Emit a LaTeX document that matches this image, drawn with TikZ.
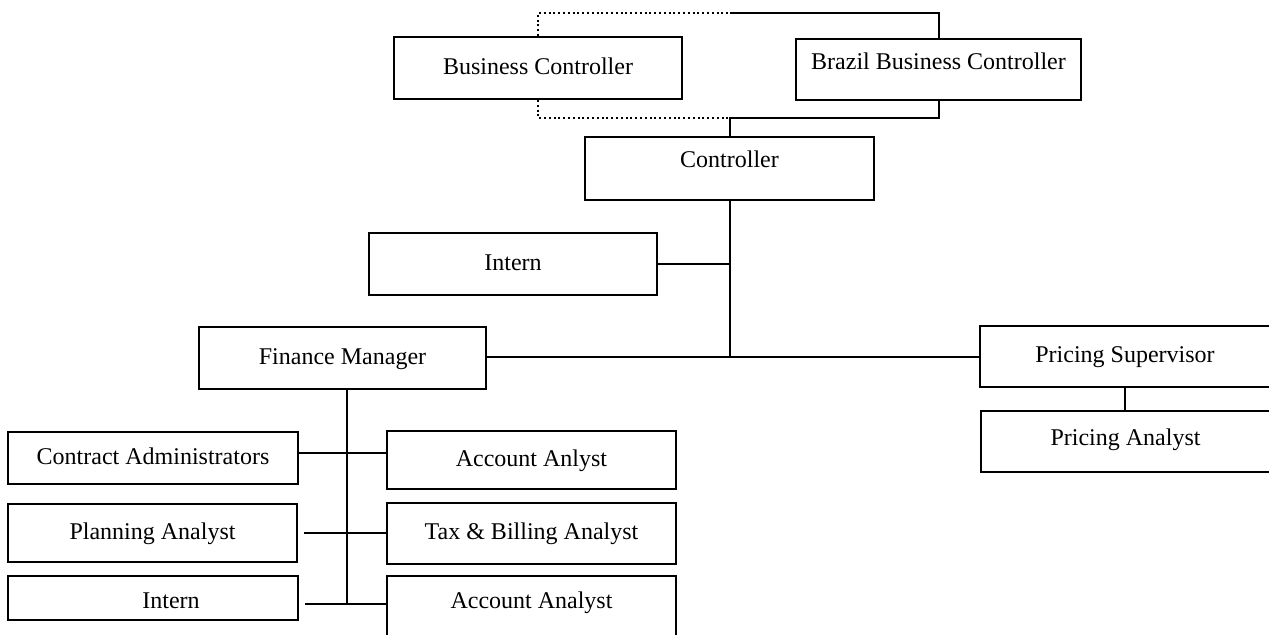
\documentclass[tikz,border=0pt]{standalone}
\usepackage{fontspec}
\setmainfont{Liberation Serif}
\begin{document}
\begin{tikzpicture}[x=0.5pt,y=-0.5pt,
  box/.style={draw, line width=1pt, rectangle, inner sep=0pt,
    font=\fontsize{12}{14}\selectfont, text height=8pt, text depth=2pt},
  link/.style={line width=1pt},
  dots/.style={line width=1pt, dash pattern=on 1pt off 1.4pt}]
\useasboundingbox (0,0) rectangle (1269,634);
\clip (0,0) rectangle (1269,634);
\fill[white] (0,0) rectangle (1269,634);

% boxes
\node[box, minimum width=144pt, minimum height=31pt] (bc) at (538,68) {Business Controller};
\node[box, minimum width=142.5pt, minimum height=30.5pt, text depth=8pt] (bbc) at (938.5,69.5) {Brazil Business Controller};
\node[box, minimum width=144.5pt, minimum height=31.5pt, text depth=9pt] (ctrl) at (729.5,168.5) {Controller};
\node[box, minimum width=144pt, minimum height=31pt] (in1) at (513,264) {Intern};
\node[box, minimum width=143.5pt, minimum height=31pt] (fm) at (342.5,358) {Finance Manager};
\node[box, minimum width=145pt, minimum height=30.5pt] (ps) at (1125,356.5) {Pricing Supervisor};
\node[box, minimum width=144.5pt, minimum height=30.5pt, text depth=4.5pt] (pa) at (1125.5,441.5) {Pricing Analyst};
\node[box, minimum width=145pt, minimum height=26pt] (ca) at (153,458) {Contract Administrators};
\node[box, minimum width=144.5pt, minimum height=29pt] (aa1) at (531.5,460) {Account Anlyst};
\node[box, minimum width=144.5pt, minimum height=29pt] (pl) at (152.5,533) {Planning Analyst};
\node[box, minimum width=144.5pt, minimum height=30.5pt] (tax) at (531.5,533.5) {Tax \& Billing Analyst};
\node[box, minimum width=145pt, minimum height=22pt, text height=12pt] (in2) at (153,598) {\hspace*{18pt}Intern};
\node[box, minimum width=144.5pt, minimum height=34pt, text depth=10pt] (aa2) at (531.5,610) {Account Analyst};

% top connectors
\coordinate (tj) at (730,13);
\coordinate (bj) at (729.5,118);
\draw[dots] (bc.north) |- (tj);
\draw[link] (tj) -| (bbc.north);
\draw[dots] (bc.south) |- (bj);
\draw[link] (bbc.south) |- (bj) -- (ctrl.north);

% controller trunk
\coordinate (hj) at (729.5,357);
\draw[link] (ctrl.south) -- (hj);
\draw[link] (in1.east) -- (in1.east -| hj);
\draw[link] (fm.east |- hj) -- (ps.west |- hj);
\draw[link] (ps.south) -- (ps.south |- pa.north);

% finance manager trunk
\coordinate (fv) at (347,604);
\draw[link] (fm.south -| fv) -- (fv);
\draw[link] (ca.east |- 0,453) -- (aa1.west |- 0,453);
\draw[link] ([xshift=3pt]pl.east) -- (tax.west |- pl.east);
\draw[link] ([xshift=3pt]in2.east |- fv) -- (aa2.west |- fv);
\end{tikzpicture}
\end{document}
